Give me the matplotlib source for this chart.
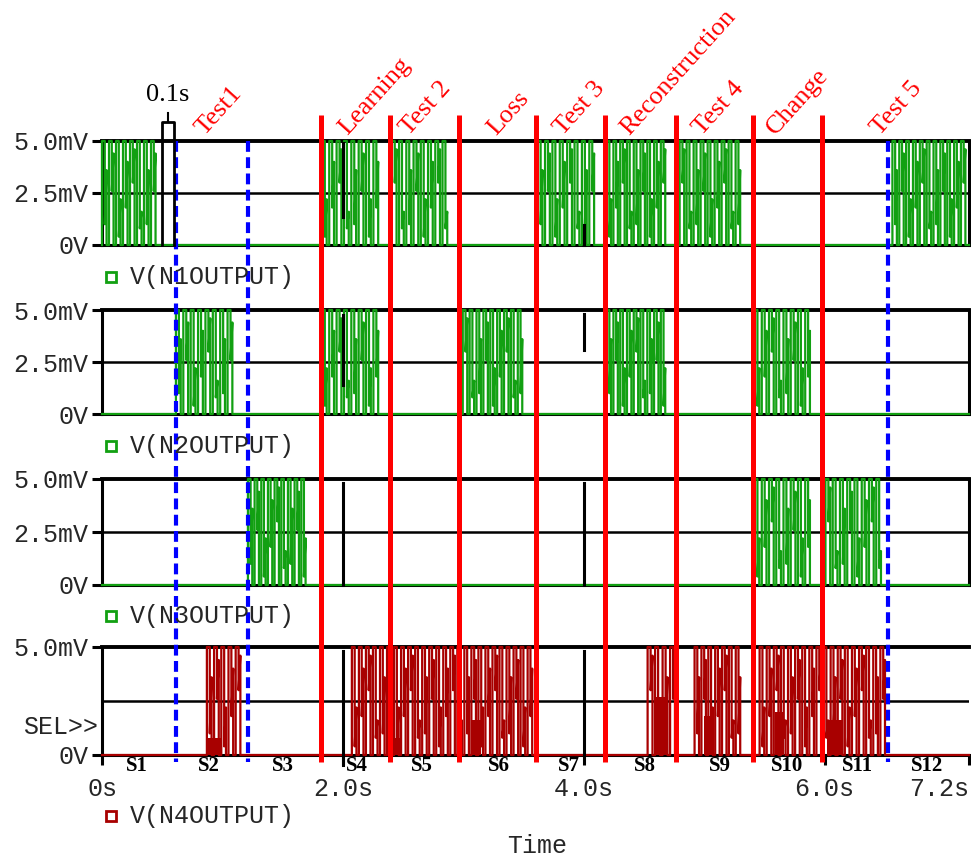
import matplotlib.pyplot as plt
import numpy as np

W, H = 971, 858
X0, X1 = 102, 969          # pixel span of the time axis

# burst windows (seconds)
n1_bursts = [(0.0, 0.465), (1.826, 2.315), (2.407, 2.888), (3.618, 4.108),
             (4.191, 4.697), (4.797, 5.320), (6.564, 7.19)]
n2_bursts = [(0.614, 1.104), (1.826, 2.315), (2.996, 3.510), (4.191, 4.697),
             (5.419, 5.900)]
n3_bursts = [(1.212, 1.710), (5.419, 5.900), (6.008, 6.490)]
n4_bursts = [(0.871, 1.170), (2.075, 3.593), (4.531, 4.780), (4.921, 5.320),
             (5.461, 6.523)]
# dense low-amplitude activity on N4: (start, end, mV)
n4_low = [(0.88, 0.99, 0.8), (2.41, 2.49, 0.8), (3.07, 3.15, 1.6),
          (4.59, 4.70, 2.7), (5.00, 5.08, 1.8), (5.59, 5.66, 2.0),
          (6.02, 6.15, 1.6)]
spike_period = 0.058
# levels (mV) the trace drops to / ramps to inside one spike, used in turn
spike_levels = [(1.0, 3.6), (2.6, 4.4), (0.4, 2.2), (1.8, 4.0), (3.0, 4.6), (0.8, 1.6)]

# black marker strokes: (time, from mV, to mV) per panel
marks = [[(2.0, 1.35, 4.9), (4.0, 0.0, 0.96)],
         [(2.0, 1.39, 4.76), (4.0, 3.07, 4.8)],
         [(2.0, 0.0, 4.8), (4.0, 0.0, 4.8)],
         [(2.0, -0.46, 4.8), (4.0, 0.0, 4.8)]]

red_events = [1.82, 2.39, 2.965, 3.60, 4.18, 4.77, 5.41, 5.98]
blue_events = [0.614, 1.21, 6.53]
event_names = ["Test1", "Learning", "Test 2", "Loss", "Test 3",
               "Reconstruction", "Test 4", "Change", "Test 5"]
event_label_t = [0.85, 2.04, 2.55, 3.27, 3.83, 4.38, 4.98, 5.59, 6.46]

state_names = ["S%d" % i for i in range(1, 13)]
state_t = [0.29, 0.89, 1.50, 2.12, 2.66, 3.30, 3.88, 4.51, 5.13, 5.69, 6.27, 6.85]

scale_bar = (0.498, 0.598)

names = ["V(N1OUTPUT)", "V(N2OUTPUT)", "V(N3OUTPUT)", "V(N4OUTPUT)"]
colors = ["#12a012", "#12a012", "#12a012", "#a80000"]
bursts = [n1_bursts, n2_bursts, n3_bursts, n4_bursts]
# panel pixel rows (top = 5.0mV, bottom = 0V) and legend row
rows = [(141, 245), (310, 414), (479, 585), (647, 755)]
legend_y = [277, 446, 616, 816]

mono = "Liberation Mono"
serif = "Liberation Serif"
tcol = "#262626"


def trace(bl):
    t, v = [0.0], [0.0]
    for j, (a, b) in enumerate(bl):
        n = max(1, int(round((b - a) / spike_period)))
        p = (b - a) / n
        for k in range(n):
            t0 = a + k * p
            lo, hi = spike_levels[(k + 2 * j) % len(spike_levels)]
            t += [t0, t0, t0 + 0.4 * p, t0 + 0.4 * p, t0 + 0.65 * p, t0 + 0.65 * p]
            v += [0, 5, 5, lo, hi, 0]
        t.append(b)
        v.append(0)
    t.append(7.2)
    v.append(0)
    return np.array(t), np.array(v)


fig = plt.figure(figsize=(W / 100, H / 100), dpi=100)

for i in range(4):
    top, bot = rows[i]
    ax = fig.add_axes([X0 / W, 1 - bot / H, (X1 - X0) / W, (bot - top) / H])
    ax.set_xlim(0, 7.2)
    ax.set_ylim(0, 5)
    tt, vv = trace(bursts[i])
    ax.plot(tt, vv, color=colors[i], lw=1.6, zorder=3, clip_on=False)
    if i == 3:
        for a, b, h in n4_low:
            ax.fill_between([a, b], 0, h, color=colors[i], lw=0, zorder=3)
    ax.axhline(2.5, color="black", lw=1.8, zorder=1)
    for t, a, b in marks[i]:
        ax.plot([t, t], [a, b], color="black", lw=2.2, zorder=4, clip_on=False)
    for s in ["left", "right", "bottom", "top"]:
        ax.spines[s].set_linewidth(2.2)
    ax.spines["top"].set_linewidth(2.8)
    if i < 3:
        ax.set_yticks([0, 2.5, 5])
        ax.set_yticklabels(["0V", "2.5mV", "5.0mV"])
        ax.set_xticks([])
    else:
        ax.spines["right"].set_visible(False)
        ax.set_yticks([0, 5])
        ax.set_yticklabels(["0V", "5.0mV"])
        ax.set_xticks([0, 2, 4, 6, 7.2])
        ax.set_xticklabels(["0s", "2.0s", "4.0s", "6.0s", "7.2s"],
                           fontfamily=mono, fontsize=18, color=tcol)
        ax.get_xticklabels()[-1].set_ha("right")
        ax.tick_params(axis="x", direction="out", length=7, width=2.2, pad=9)
        ax.text(-0.004, 1.3, "SEL>>", transform=ax.get_yaxis_transform(),
                ha="right", va="center", fontfamily=mono, fontsize=18, color=tcol)
        for name, t in zip(state_names, state_t):
            ax.text(t, -0.5, name, ha="center", va="center", fontfamily=serif,
                    fontweight="bold", fontsize=15, color="black")
    ax.tick_params(axis="y", direction="out", length=7, width=2.2, pad=3)
    for lab in ax.get_yticklabels():
        lab.set_fontfamily(mono)
        lab.set_fontsize(18)
        lab.set_color(tcol)

# overlay in time (x) and pixel rows (y) for the event lines and texts
ov = fig.add_axes([X0 / W, 0, (X1 - X0) / W, 1])
ov.set_xlim(0, 7.2)
ov.set_ylim(H, 0)
ov.axis("off")
ov.patch.set_visible(False)

for t in red_events:
    ov.plot([t, t], [115, 762], color="#ff0000", lw=3.6, solid_capstyle="butt")
for t in blue_events:
    ov.plot([t, t], [141, 762], color="#0000ff", lw=3, dashes=(2.6, 1.3))
for name, t in zip(event_names, event_label_t):
    ov.text(t, 136, name, rotation=48, rotation_mode="anchor", ha="left",
            va="baseline", color="#ff0000", fontfamily=serif, fontsize=19)

# 0.1 s scale bar
a, b = scale_bar
m = (a + b) / 2
ov.plot([a, a, b, b], [245, 122, 122, 245], color="black", lw=2)
ov.plot([m, m], [122, 113], color="black", lw=1.5)
ov.text(m, 95, "0.1s", ha="center", va="center", fontfamily=serif, fontsize=19)

for i in range(4):
    ov.plot([0.075], [legend_y[i]], marker="s", ms=7, mfc="white",
            mec=colors[i], mew=2, clip_on=False)
    ov.text(0.232, legend_y[i], names[i], ha="left", va="center",
            fontfamily=mono, fontsize=18, color=tcol)

fig.text(537 / W, 1 - 846 / H, "Time", ha="center", va="center",
         fontfamily=mono, fontsize=18, color=tcol)

fig.savefig("out.png", dpi=100)
